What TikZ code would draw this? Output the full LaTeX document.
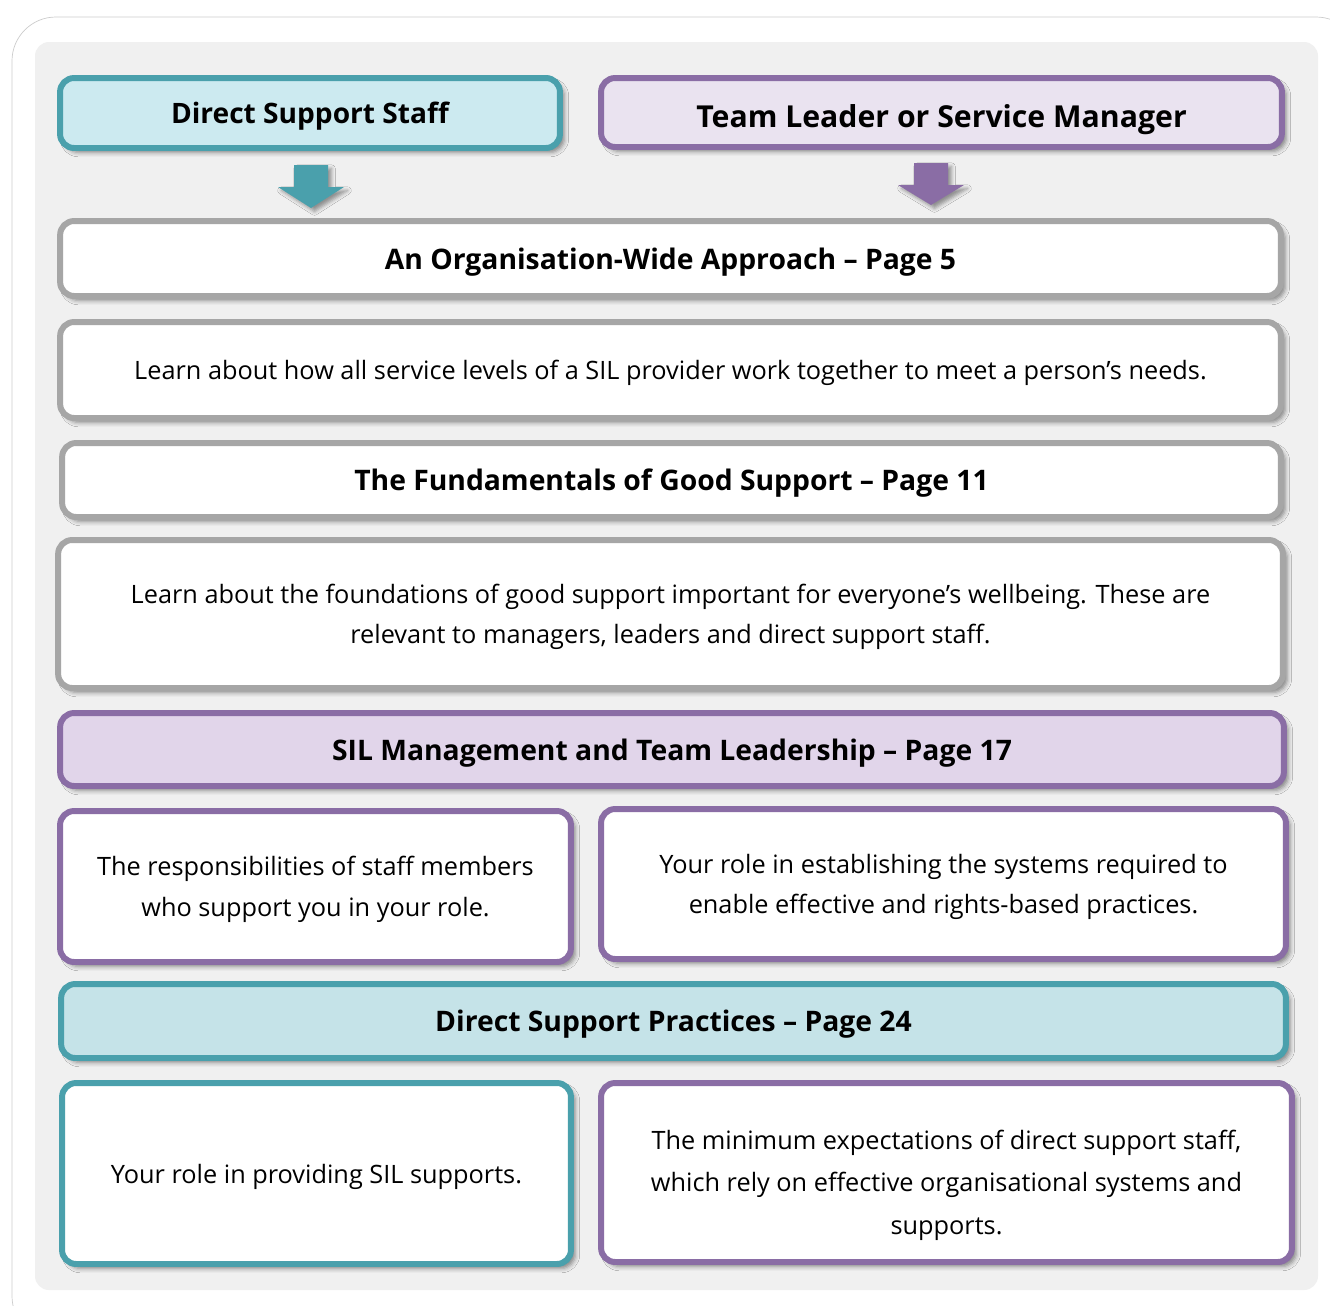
\documentclass[tikz,border=0pt]{standalone}
\usepackage{fontspec}
\setmainfont{Open Sans}
\usetikzlibrary{shadows.blur}

\definecolor{tealline}{HTML}{4AA0AC}
\definecolor{tealfill}{HTML}{CCEAF0}
\definecolor{tealband}{HTML}{C5E3E8}
\definecolor{purpleline}{HTML}{8A6DA5}
\definecolor{purplefill}{HTML}{EAE3F0}
\definecolor{purpleband}{HTML}{E1D5EA}
\definecolor{greyline}{HTML}{A6A6A6}
\definecolor{panelgrey}{HTML}{F0F0F0}

\newcommand\bodysize{\fontsize{14.4}{23}\selectfont}
\newcommand\headsize{\fontsize{16.1}{20}\selectfont\bfseries}

\tikzset{
  box/.style={rounded corners=8pt, line width=3.4pt, align=center, inner sep=0pt,
    blur shadow={shadow xshift=2.5pt, shadow yshift=-2.5pt, shadow blur radius=2.5pt,
      shadow opacity=45}},
  greybox/.style={box, draw=greyline, fill=white},
  tealbox/.style={box, draw=tealline, fill=white},
  purplebox/.style={box, draw=purpleline, fill=white},
  bodytext/.style={font=\bodysize, text depth=0pt},
  headtext/.style={font=\headsize, text depth=0pt}
}

\begin{document}
\begin{tikzpicture}[x=0.02cm, y=-0.02cm]
    \useasboundingbox (0,0) rectangle (1330,1306);

    % Page frame and grey panel
    \draw[gray!40, fill=white, rounded corners=25pt] (12,17) rectangle (1360,1340);
    \fill[panelgrey, rounded corners=8pt] (35,42) rectangle (1318,1290);

    % Audience headers
    \node[box, draw=tealline, fill=tealfill, minimum width=10cm, minimum height=1.4cm, text depth=0pt,
        font=\fontsize{16}{20}\selectfont\bfseries] (staff) at (310,113) {Direct Support Staff};
    \node[box, draw=purpleline, fill=purplefill, minimum width=13.62cm, minimum height=1.38cm,
        text height=17.5pt, text depth=0pt,
        font=\fontsize{17.2}{21}\selectfont\bfseries] (leader) at (941.5,112.5) {Team Leader or Service Manager};

    % Block arrows under the headers
    \fill[tealline, blur shadow={shadow xshift=2pt, shadow yshift=-2pt, shadow opacity=40}]
        (294,165) -- (328,165) -- (328,187) -- (344,187) -- (311,208)
        -- (278,187) -- (294,187) -- cycle;
    \fill[purpleline, blur shadow={shadow xshift=2pt, shadow yshift=-2pt, shadow opacity=40}]
        (914,163) -- (948,163) -- (948,185) -- (964,185) -- (931,205)
        -- (898,185) -- (914,185) -- cycle;

    % Organisation-wide section
    \node[greybox, headtext, minimum width=24.42cm, minimum height=1.5cm] (orgwide) at (670.5,258.5)
        {An Organisation-Wide Approach -- Page 5};
    \node[greybox, bodytext, minimum width=24.42cm, minimum height=1.92cm] (orgwidetxt) at (670.5,370)
        {Learn about how all service levels of a SIL provider work together to meet a person’s needs.};

    % Fundamentals section
    \node[greybox, headtext, minimum width=24.38cm, minimum height=1.48cm] (fundamentals) at (671.5,480)
        {The Fundamentals of Good Support -- Page 11};
    \node[greybox, bodytext, minimum width=24.5cm, minimum height=2.96cm] (fundamentalstxt) at (670.5,614)
        {Learn about the foundations of good support important for everyone's wellbeing. These are\\
         relevant to managers, leaders and direct support staff.};

    % Management section
    \node[purplebox, fill=purpleband, headtext, minimum width=24.48cm, minimum height=1.46cm] (mgmt) at (672,749.5)
        {SIL Management and Team Leadership -- Page 17};
    \node[purplebox, bodytext, minimum width=10.22cm, minimum height=3.02cm] (mgmtstaff) at (315.5,886.5)
        {The responsibilities of staff members\\ who support you in your role.};
    \node[purplebox, bodytext, minimum width=13.7cm, minimum height=3cm] (mgmtleader) at (943.5,884)
        {Your role in establishing the systems required to\\ enable effective and rights-based practices.};

    % Direct support section
    \node[tealbox, fill=tealband, headtext, minimum width=24.5cm, minimum height=1.48cm] (practices) at (673.5,1021)
        {Direct Support Practices -- Page 24};
    \node[tealbox, bodytext, minimum width=10.18cm, minimum height=3.62cm] (practicesstaff) at (316.5,1173.5)
        {Your role in providing SIL supports.};
    \node[purplebox, bodytext, font=\fontsize{14.4}{24}\selectfont,
        minimum width=13.82cm, minimum height=3.58cm] (practicesleader) at (946.5,1172.5)
        {\rule{0pt}{22pt}The minimum expectations of direct support staff,\\
         which rely on effective organisational systems and\\ supports.};
\end{tikzpicture}
\end{document}
